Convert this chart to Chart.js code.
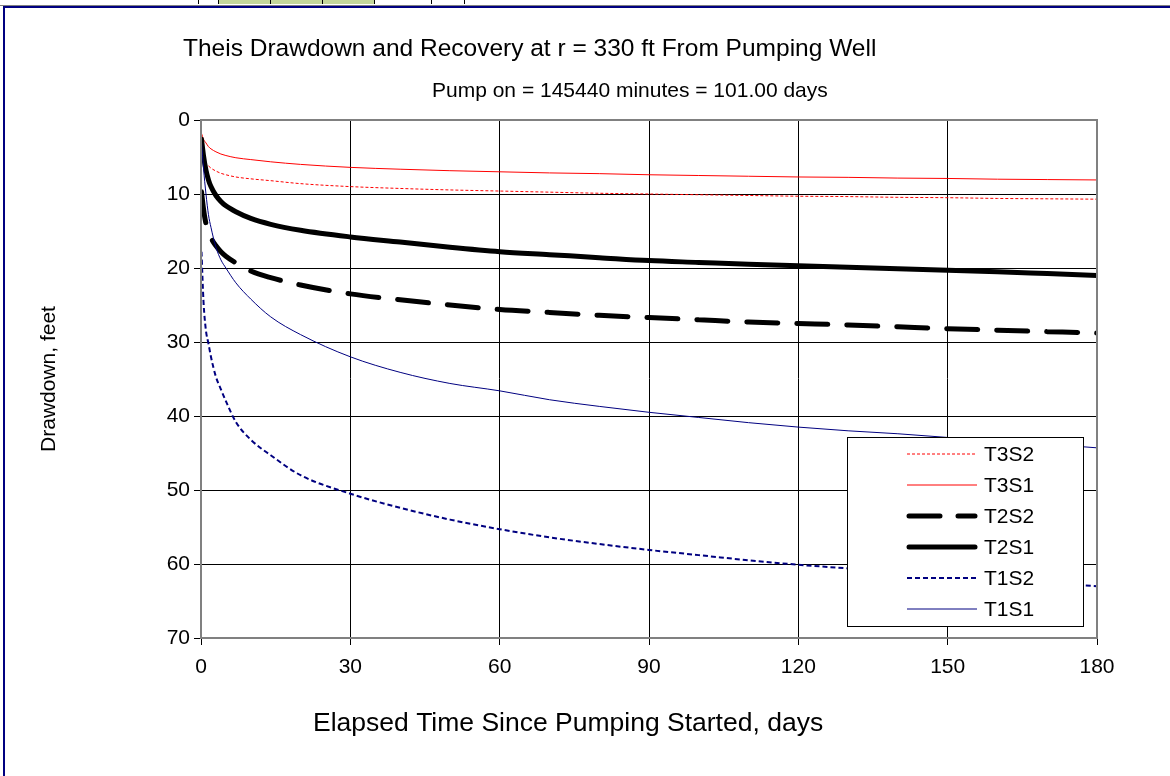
<!DOCTYPE html>
<html>
<head>
<meta charset="utf-8">
<script src="https://cdn.jsdelivr.net/npm/chart.js@4.4.1/dist/chart.umd.min.js"></script>
<style>
  html, body { margin: 0; padding: 0; background: #fff; }
  #wrap { position: relative; width: 1170px; height: 776px; overflow: hidden; }
  #sheet { position: absolute; left: 0; top: 0; width: 1170px; height: 5px; background: #fff; border-bottom: 1px solid #808080; }
  .cell { position: absolute; top: 0; height: 4px; border-right: 1px solid #000; }
  #frame { position: absolute; left: 3px; top: 6px; width: 1200px; height: 800px; border-top: 2px solid #000080; border-left: 2px solid #000080; }
  canvas { position: absolute; left: 0; top: 0; }
</style>
</head>
<body>
<div id="wrap">
  <div id="sheet">
    <div class="cell" style="left:160px;width:38px"></div>
    <div class="cell" style="left:199px;width:19px"></div>
    <div class="cell" style="left:219px;width:51px;background:#c4d79b"></div>
    <div class="cell" style="left:271px;width:51px;background:#c4d79b"></div>
    <div class="cell" style="left:323px;width:51px;background:#c4d79b"></div>
    <div class="cell" style="left:375px;width:56px"></div>
    <div class="cell" style="left:432px;width:32px"></div>
  </div>
  <div id="frame"></div>
  <canvas id="theisChart" width="1170" height="776"></canvas>
</div>
<script>
// elapsed time, days
const days = [0.1, 0.5, 1, 1.5, 2, 3, 4, 5, 7, 10, 14, 20, 30, 40, 50, 60, 70, 80, 90, 100, 110, 120, 130, 140, 150, 160, 170, 180];

// drawdown, feet
const t3s2 = [null, null, null, 6.2, 6.5, 6.9, 7.2, 7.4, 7.7, 7.95, 8.2, 8.6, 9.0, 9.25, 9.45, 9.6, 9.75, 9.9, 10.0, 10.1, 10.2, 10.3, 10.35, 10.45, 10.5, 10.6, 10.65, 10.7];
const t3s1 = [1.8, 2.6, 3.1, 3.6, 3.9, 4.3, 4.6, 4.8, 5.1, 5.35, 5.65, 6.0, 6.4, 6.65, 6.85, 7.0, 7.15, 7.25, 7.4, 7.5, 7.6, 7.7, 7.75, 7.85, 7.9, 8.0, 8.05, 8.1];
const t2s2 = [9.7, 12.0, 14.0, 15.0, 15.9, 17.0, 17.8, 18.4, 19.3, 20.4, 21.3, 22.3, 23.5, 24.3, 25.0, 25.6, 26.0, 26.4, 26.7, 27.0, 27.3, 27.5, 27.7, 27.95, 28.2, 28.4, 28.6, 28.8];
const t2s1 = [2.6, 4.8, 6.8, 8.1, 9.0, 10.2, 11.0, 11.6, 12.4, 13.3, 14.1, 14.9, 15.8, 16.5, 17.2, 17.8, 18.2, 18.6, 19.0, 19.25, 19.5, 19.7, 19.9, 20.1, 20.3, 20.5, 20.75, 21.0];
const t1s2 = [17.8, 24.5, 28.5, 30.2, 32.0, 34.7, 36.4, 38.0, 40.8, 43.2, 45.3, 48.0, 50.5, 52.4, 54.0, 55.3, 56.4, 57.3, 58.1, 58.8, 59.5, 60.1, 60.6, 61.1, 61.6, 62.1, 62.6, 63.0];
const t1s1 = [3.0, 6.5, 10.0, 12.8, 14.5, 17.2, 18.9, 20.0, 22.0, 24.2, 26.6, 29.0, 32.0, 34.1, 35.6, 36.6, 37.8, 38.7, 39.5, 40.2, 40.9, 41.5, 42.0, 42.4, 42.9, 43.4, 43.8, 44.3];

const xTicks = [0, 30, 60, 90, 120, 150, 180];
const yTicks = [0, 10, 20, 30, 40, 50, 60, 70];

const chartTitle = 'Theis Drawdown and Recovery at r = 330 ft From Pumping Well';
const chartSubtitle = 'Pump on = 145440 minutes = 101.00 days';
const xTitle = 'Elapsed Time Since Pumping Started, days';

const FONT = '"Liberation Sans", Arial, sans-serif';

function pts(vals) {
    return days.map((d, i) => ({ x: d, y: vals[i] }));
}

// legend order as in the picture (top to bottom)
const series = [
    { label: 'T3S2', data: t3s2, color: '#ff0000', width: 1, dash: [3, 2] },
    { label: 'T3S1', data: t3s1, color: '#ff0000', width: 1, dash: [] },
    { label: 'T2S2', data: t2s2, color: '#000000', width: 5, dash: [31, 19] },
    { label: 'T2S1', data: t2s1, color: '#000000', width: 5, dash: [] },
    { label: 'T1S2', data: t1s2, color: '#000080', width: 2, dash: [5, 3] },
    { label: 'T1S1', data: t1s1, color: '#000080', width: 1, dash: [] }
];

// titles sit off-centre in the original, so they are placed by hand
const titlePlugin = {
    id: 'excelTitles',
    afterDraw(chart) {
        const ctx = chart.ctx;
        ctx.save();
        ctx.fillStyle = '#000';
        ctx.textBaseline = 'alphabetic';
        ctx.textAlign = 'left';
        ctx.font = '24.5px ' + FONT;
        ctx.fillText(chartTitle, 183, 56);
        ctx.font = '21px ' + FONT;
        ctx.fillText(chartSubtitle, 432, 97);
        ctx.font = '26.5px ' + FONT;
        ctx.fillText(xTitle, 313, 731);
        ctx.restore();
    }
};

const framePlugin = {
    id: 'plotFrame',
    afterDatasetsDraw(chart) {
        const a = chart.chartArea;
        const ctx = chart.ctx;
        ctx.save();
        ctx.strokeStyle = '#808080';
        ctx.lineWidth = 2;
        ctx.strokeRect(a.left, a.top, a.right - a.left, a.bottom - a.top);
        ctx.restore();
    }
};

const legendPlugin = {
    id: 'boxLegend',
    afterDraw(chart) {
        const ctx = chart.ctx;
        const x0 = 847, y0 = 437, w = 236, h = 189;
        ctx.save();
        ctx.fillStyle = '#fff';
        ctx.fillRect(x0, y0, w, h);
        ctx.strokeStyle = '#000';
        ctx.lineWidth = 1;
        ctx.strokeRect(x0 + 0.5, y0 + 0.5, w, h);
        ctx.font = '21px ' + FONT;
        ctx.textBaseline = 'middle';
        ctx.textAlign = 'left';
        series.forEach((s, i) => {
            const y = y0 + 17 + i * 31;
            ctx.strokeStyle = s.color;
            ctx.lineWidth = s.width;
            ctx.lineCap = s.width > 2 ? 'round' : 'butt';
            ctx.setLineDash(s.dash.length ? (s.width > 2 ? [31, 18] : s.dash) : []);
            ctx.beginPath();
            ctx.moveTo(s.width > 2 ? 909 : 907, y);
            ctx.lineTo(s.width > 2 ? 975 : 977, y);
            ctx.stroke();
            ctx.setLineDash([]);
            ctx.fillStyle = '#000';
            ctx.fillText(s.label, 984, y + 1);
        });
        ctx.restore();
    }
};

const ctx = document.getElementById('theisChart').getContext('2d');
new Chart(ctx, {
    type: 'line',
    data: {
        datasets: series.slice().reverse().map(s => ({
            label: s.label,
            data: pts(s.data),
            borderColor: s.color,
            borderWidth: s.width,
            borderDash: s.dash,
            borderCapStyle: s.width > 2 ? 'round' : 'butt',
            pointRadius: 0,
            fill: false,
            cubicInterpolationMode: 'monotone',
            spanGaps: false
        }))
    },
    options: {
        responsive: false,
        animation: false,
        events: [],
        layout: { padding: { left: 0, top: 120, right: 73, bottom: 0 } },
        plugins: {
            legend: { display: false },
            title: { display: false },
            tooltip: { enabled: false }
        },
        scales: {
            x: {
                type: 'linear',
                min: 0,
                max: 180,
                afterBuildTicks: s => { s.ticks = xTicks.map(v => ({ value: v })); },
                afterFit: s => { s.height = 776 - 638; },
                grid: { color: '#000', lineWidth: 1, tickLength: 7, tickColor: '#000' },
                border: { color: '#808080', width: 2 },
                ticks: { color: '#000', font: { family: FONT, size: 21 }, padding: 10, maxRotation: 0 },
                title: { display: false }
            },
            y: {
                type: 'linear',
                reverse: true,
                min: 0,
                max: 70,
                afterBuildTicks: s => { s.ticks = yTicks.map(v => ({ value: v })); },
                afterFit: s => { s.width = 201; },
                grid: { color: '#000', lineWidth: 1, tickLength: 7, tickColor: '#000' },
                border: { color: '#808080', width: 2 },
                ticks: { color: '#000', font: { family: FONT, size: 21 }, padding: 4 },
                title: {
                    display: true,
                    text: 'Drawdown, feet',
                    color: '#000',
                    font: { family: FONT, size: 21 },
                    padding: { top: 37, bottom: 0 }
                }
            }
        }
    },
    plugins: [framePlugin, legendPlugin, titlePlugin]
});
</script>
</body>
</html>
